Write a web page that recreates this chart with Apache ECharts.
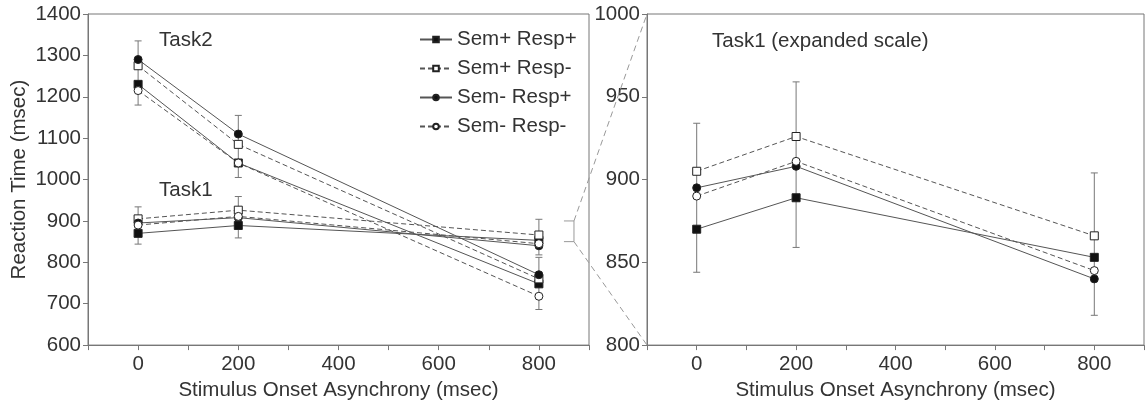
<!DOCTYPE html>
<html>
<head>
<meta charset="utf-8">
<script src="https://cdn.jsdelivr.net/npm/echarts@6/dist/echarts.min.js"></script>
<style>
  html, body { margin: 0; padding: 0; background: #fff; }
  #chart { width: 1147px; height: 406px; }
</style>
</head>
<body>
<div id="chart"></div>
<script>
// stimulus onset asynchrony (msec)
const soa = [0, 200, 800];
const conditions = ['Sem+ Resp+', 'Sem+ Resp-', 'Sem- Resp+', 'Sem- Resp-'];

// Task2 reaction times (left panel)
const task2SemPRespP = [1230, 1040, 748];
const task2SemPRespN = [1275, 1085, 760];
const task2SemNRespP = [1290, 1110, 770];
const task2SemNRespN = [1215, 1040, 718];
const task2ErrLow = [1180, 1005, 686];
const task2ErrHigh = [1335, 1155, 812];

// Task1 reaction times (both panels)
const task1SemPRespP = [870, 889, 853];
const task1SemPRespN = [905, 926, 866];
const task1SemNRespP = [895, 908, 840];
const task1SemNRespN = [890, 911, 845];
const task1ErrLow = [844, 859, 818];
const task1ErrHigh = [934, 959, 904];

// tick labels shown on the x axes
const xTickLabels = [0, 200, 400, 600, 800];

const FONT = 'Liberation Sans';
const FS = 20.5;
const TXT = '#333';
const AXIS = '#777';
const LINE = '#555';

// marker / line look per condition
const condStyle = [
  { symbol: 'rect', size: 8, fill: '#111', dash: 'solid' },
  { symbol: 'rect', size: 8, fill: '#fff', dash: [5, 3] },
  { symbol: 'circle', size: 8, fill: '#111', dash: 'solid' },
  { symbol: 'circle', size: 8, fill: '#fff', dash: [5, 3] }
];

function pairs(vals) {
  return soa.map((x, i) => [x, vals[i]]);
}

function lineSeries(name, vals, st, gi) {
  return {
    type: 'line',
    name: name,
    xAxisIndex: gi,
    yAxisIndex: gi,
    data: pairs(vals),
    symbol: st.symbol,
    symbolSize: st.size,
    z: 3,
    lineStyle: { color: LINE, width: 1, type: st.dash },
    itemStyle: { color: st.fill, borderColor: '#222', borderWidth: 1 },
    emphasis: { disabled: true },
    animation: false
  };
}

function errorSeries(low, high, gi) {
  return {
    type: 'custom',
    xAxisIndex: gi,
    yAxisIndex: gi,
    z: 1,
    silent: true,
    data: soa.map((x, i) => [x, low[i], high[i]]),
    renderItem: function (params, api) {
      const lo = api.coord([api.value(0), api.value(1)]);
      const hi = api.coord([api.value(0), api.value(2)]);
      const cap = 3.5;
      const style = { stroke: '#777', lineWidth: 1 };
      return {
        type: 'group',
        children: [
          { type: 'line', shape: { x1: lo[0], y1: lo[1], x2: hi[0], y2: hi[1] }, style: style },
          { type: 'line', shape: { x1: lo[0] - cap, y1: lo[1], x2: lo[0] + cap, y2: lo[1] }, style: style },
          { type: 'line', shape: { x1: hi[0] - cap, y1: hi[1], x2: hi[0] + cap, y2: hi[1] }, style: style }
        ]
      };
    },
    animation: false
  };
}

function xAxisCfg(gi) {
  return {
    type: 'value',
    gridIndex: gi,
    min: -100,
    max: 900,
    interval: 100,
    name: 'Stimulus Onset Asynchrony (msec)',
    nameLocation: 'middle',
    nameGap: 34,
    nameTextStyle: { fontFamily: FONT, fontSize: FS, color: TXT },
    axisLine: { onZero: false, lineStyle: { color: AXIS, width: 1 } },
    axisTick: { show: true, length: 5, lineStyle: { color: AXIS } },
    splitLine: { show: false },
    axisLabel: {
      fontFamily: FONT, fontSize: FS, color: TXT, margin: 9,
      showMinLabel: true, showMaxLabel: true,
      formatter: v => (xTickLabels.indexOf(v) >= 0 ? String(v) : '')
    }
  };
}

function yAxisCfg(gi, min, max, step) {
  return {
    type: 'value', gridIndex: gi, min: min, max: max, interval: step,
    axisLine: { show: true, onZero: false, lineStyle: { color: AXIS } },
    axisTick: { show: true, length: 5, lineStyle: { color: AXIS } },
    splitLine: { show: false },
    axisLabel: { fontFamily: FONT, fontSize: FS, color: TXT, margin: 7, formatter: v => String(v) }
  };
}

const task2Sets = [task2SemPRespP, task2SemPRespN, task2SemNRespP, task2SemNRespN];
const task1Sets = [task1SemPRespP, task1SemPRespN, task1SemNRespP, task1SemNRespN];

const series = [
  errorSeries(task2ErrLow, task2ErrHigh, 0),
  errorSeries(task1ErrLow, task1ErrHigh, 0),
  errorSeries(task1ErrLow, task1ErrHigh, 1)
];
conditions.forEach((c, i) => {
  series.push(lineSeries(c, task2Sets[i], condStyle[i], 0));
  series.push(lineSeries(c, task1Sets[i], condStyle[i], 0));
  series.push(lineSeries(c, task1Sets[i], condStyle[i], 1));
});

const leftY = yAxisCfg(0, 600, 1400, 100);
leftY.name = 'Reaction Time (msec)';
leftY.nameLocation = 'middle';
leftY.nameGap = 58;
leftY.nameTextStyle = { fontFamily: FONT, fontSize: FS, color: TXT };

const chart = echarts.init(document.getElementById('chart'));

const option = {
  backgroundColor: '#fff',
  animation: false,
  grid: [
    { left: 88, top: 14, width: 501, height: 336, show: true, borderColor: AXIS, borderWidth: 1 },
    { left: 647, top: 14, width: 502, height: 336, show: true, borderColor: AXIS, borderWidth: 1 }
  ],
  xAxis: [xAxisCfg(0), xAxisCfg(1)],
  yAxis: [leftY, yAxisCfg(1, 800, 1000, 50)],
  legend: {
    data: conditions,
    orient: 'vertical',
    left: 414,
    top: 24,
    itemWidth: 32,
    itemHeight: 7,
    itemGap: 8,
    selectedMode: false,
    textStyle: { fontFamily: FONT, fontSize: FS, color: TXT, lineHeight: 20 }
  },
  series: series
};
chart.setOption(option);

// zoom bracket (850-900 on the left scale) and the dashed guides to the right panel
const bTop = chart.convertToPixel({ gridIndex: 0 }, [870, 900]);
const bBot = chart.convertToPixel({ gridIndex: 0 }, [870, 850]);
const bTopIn = chart.convertToPixel({ gridIndex: 0 }, [850, 900]);
const bBotIn = chart.convertToPixel({ gridIndex: 0 }, [850, 850]);
const rTop = chart.convertToPixel({ gridIndex: 1 }, [-100, 1000]);
const rBot = chart.convertToPixel({ gridIndex: 1 }, [-100, 800]);
const bracketStyle = { stroke: '#999', lineWidth: 1, fill: null };
const dashStyle = { stroke: '#999', lineWidth: 1, lineDash: [6, 4], fill: null };
const labelFont = FS + 'px "Liberation Sans"';

chart.setOption({
  graphic: [
    { type: 'polyline', silent: true, z: 5, shape: { points: [bTopIn, bTop, bBot, bBotIn] }, style: bracketStyle },
    { type: 'line', silent: true, z: 5, shape: { x1: bTop[0], y1: bTop[1], x2: rTop[0], y2: rTop[1] }, style: dashStyle },
    { type: 'line', silent: true, z: 5, shape: { x1: bBot[0], y1: bBot[1], x2: rBot[0], y2: rBot[1] }, style: dashStyle },
    { type: 'text', left: 159, top: 30, silent: true, style: { text: 'Task2', font: labelFont, fill: TXT } },
    { type: 'text', left: 159, top: 180, silent: true, style: { text: 'Task1', font: labelFont, fill: TXT } },
    { type: 'text', left: 712, top: 31, silent: true, style: { text: 'Task1 (expanded scale)', font: labelFont, fill: TXT } }
  ]
});
</script>
</body>
</html>
